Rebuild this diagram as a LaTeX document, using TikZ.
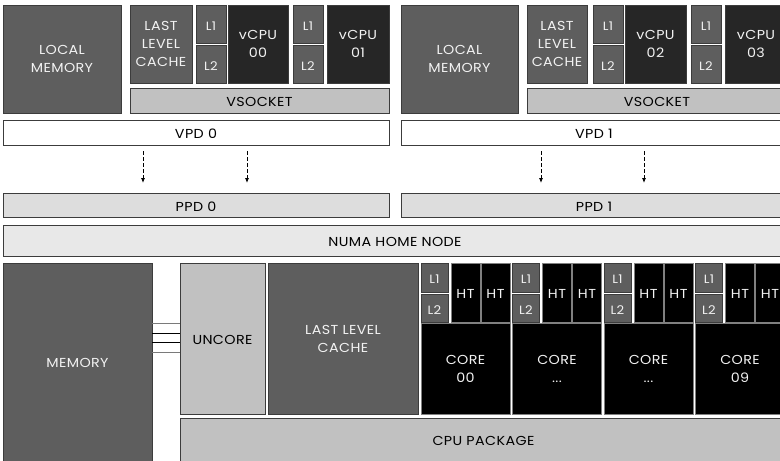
\documentclass[tikz,border=0pt]{standalone}
\usepackage{fontspec}
\setmainfont{Poppins}[FakeStretch=1.1, LetterSpace=3]
\usetikzlibrary{arrows.meta}

\definecolor{memgray}{HTML}{5E5E5E}
\definecolor{cpudark}{HTML}{262626}
\definecolor{midgray}{HTML}{C1C1C1}
\definecolor{ppdgray}{HTML}{DDDDDD}
\definecolor{numagray}{HTML}{E8E8E8}
\definecolor{edgegray}{HTML}{3C3C3C}
\definecolor{linkgray}{HTML}{7A7A7A}
\definecolor{paletext}{HTML}{F2F2F2}

% block with corners (x1,y1) and (x2,y2), measured downwards from the top
\newcommand\blockat[7]{%
  \node[#6, minimum width={(#4)-(#2)}, minimum height={(#5)-(#3)}] (#1) at (#2,#3) {#7};}
\newcommand\elide{.\kern0.5pt.\kern0.5pt.}
% a tall invisible strut sets the labels slightly below the box centre
\newcommand\lowerlabel{\rule{0pt}{12pt}}

\begin{document}
\begin{tikzpicture}[x=1pt, y=-1pt,
  box/.style={draw=edgegray, line width=0.8pt, inner sep=0pt, outer sep=0pt,
    anchor=north west, align=center, font=\fontsize{13}{18}\selectfont,
    execute at begin node=\lowerlabel},
  darkbox/.style={box, fill=memgray, text=paletext},
  smallbox/.style={darkbox, font=\fontsize{12}{14}\selectfont},
  vcpubox/.style={box, fill=cpudark, text=paletext},
  lightbox/.style={box, fill=midgray, text=black},
  whitebox/.style={box, fill=white, text=black},
  ppdbox/.style={box, fill=ppdgray, text=black},
  numabox/.style={box, fill=numagray, text=black},
  corebox/.style={box, fill=black, text=paletext, draw=gray, line width=0.5pt},
  flow/.style={dashed, dash pattern=on 4pt off 2pt, line width=0.8pt,
    -{Latex[length=5pt,width=4pt]}, shorten <=6pt, shorten >=10pt},
  link/.style={line width=1pt},
]
\path[use as bounding box, clip] (0,0) rectangle (780,461);
\fill[white] (0,0) rectangle (780,461);

% ---- virtual proximity domain 0 ----
\blockat{lm0}{3}{5}{121}{113}{darkbox}{LOCAL\\MEMORY}
\blockat{llc0}{130}{5}{192}{83}{darkbox}{LAST\\LEVEL\\CACHE}
\blockat{l1a}{196}{5}{226}{43}{smallbox}{L1}
\blockat{l2a}{196}{45}{226}{83}{smallbox}{L2}
\blockat{vcpu00}{228}{5}{288}{83}{vcpubox}{vCPU\\00}
\blockat{l1b}{293}{5}{323}{43}{smallbox}{L1}
\blockat{l2b}{293}{45}{323}{83}{smallbox}{L2}
\blockat{vcpu01}{327}{5}{389}{83}{vcpubox}{vCPU\\01}
\blockat{vs0}{130}{88}{389}{113}{lightbox}{VSOCKET}
\blockat{vpd0}{3}{120}{389}{145}{whitebox}{VPD 0}
\blockat{ppd0}{3}{193}{389}{217}{ppdbox}{PPD 0}

% ---- virtual proximity domain 1 ----
\blockat{lm1}{401}{5}{518}{113}{darkbox}{LOCAL\\MEMORY}
\blockat{llc1}{527}{5}{587}{83}{darkbox}{LAST\\LEVEL\\CACHE}
\blockat{l1c}{593}{5}{623}{43}{smallbox}{L1}
\blockat{l2c}{593}{45}{623}{83}{smallbox}{L2}
\blockat{vcpu02}{625}{5}{686}{83}{vcpubox}{vCPU\\02}
\blockat{l1d}{691}{5}{721}{43}{smallbox}{L1}
\blockat{l2d}{691}{45}{721}{83}{smallbox}{L2}
\blockat{vcpu03}{725}{5}{787}{83}{vcpubox}{vCPU\\03}
\blockat{vs1}{527}{88}{787}{113}{lightbox}{VSOCKET}
\blockat{vpd1}{401}{120}{787}{145}{whitebox}{VPD 1}
\blockat{ppd1}{401}{193}{787}{217}{ppdbox}{PPD 1}

% mapping of virtual onto physical domains
\coordinate (ax1) at (143,0);
\coordinate (ax2) at (247,0);
\coordinate (ax3) at (541,0);
\coordinate (ax4) at (644,0);
\draw[flow] (vpd0.south -| ax1) -- (ppd0.north -| ax1);
\draw[flow] (vpd0.south -| ax2) -- (ppd0.north -| ax2);
\draw[flow] (vpd1.south -| ax3) -- (ppd1.north -| ax3);
\draw[flow] (vpd1.south -| ax4) -- (ppd1.north -| ax4);

% ---- physical NUMA node ----
\blockat{numa}{3}{225}{787}{256}{numabox}{NUMA HOME NODE}
\blockat{mem}{3}{263}{152}{461}{darkbox}{MEMORY}
\blockat{unc}{180}{263}{265}{414}{lightbox}{UNCORE}
\blockat{llc}{268}{263}{418}{414}{darkbox}{LAST LEVEL\\CACHE}
\blockat{pkg}{180}{418}{787}{461}{lightbox}{CPU PACKAGE}

% memory channels
\foreach \yy/\cc in {323/linkgray, 333/black, 342/black, 352/linkgray}{
  \coordinate (ch) at (0,\yy);
  \draw[link, \cc] (mem.east |- ch) -- (unc.west |- ch);
}

% cores with their private caches and hyper-threads
\foreach \s/\lab/\i in {421/00/0, 512.5/\elide/1, 604/\elide/2, 695.5/09/3}{
  \blockat{cl1\i}{\s}{263}{\s+27}{292}{smallbox}{L1}
  \blockat{cl2\i}{\s}{294}{\s+27}{322}{smallbox}{L2}
  \blockat{hta\i}{\s+30}{263}{\s+59}{322}{corebox}{HT}
  \blockat{htb\i}{\s+60}{263}{\s+89}{322}{corebox}{HT}
  \blockat{core\i}{\s}{323}{\s+89}{414}{corebox}{CORE\\\lab}
}
\end{tikzpicture}
\end{document}
